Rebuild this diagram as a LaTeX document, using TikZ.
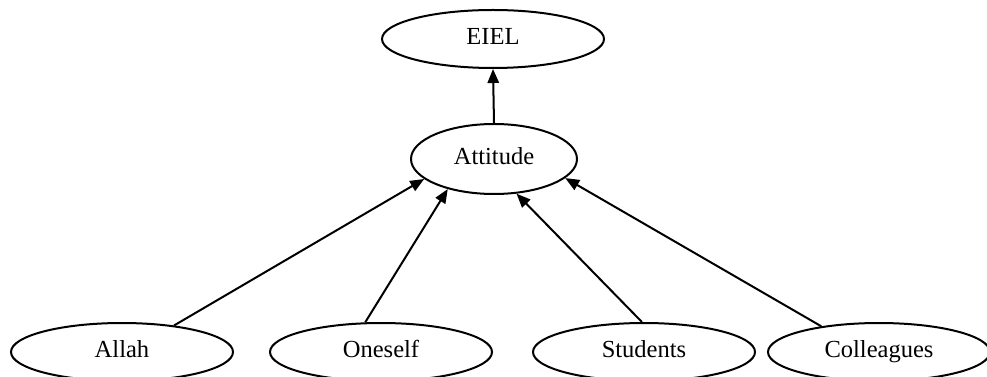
\documentclass[tikz,border=0pt]{standalone}
\usepackage{fontspec}
\setmainfont{Liberation Serif}
\usetikzlibrary{shapes.geometric, arrows.meta}

\begin{document}
\begin{tikzpicture}[x=0.75pt, y=-0.75pt, line width=1.5pt,
    oval/.style={ellipse, draw, inner sep=0pt, minimum width=166.5pt, minimum height=43.5pt,
        text height=12.5pt, text depth=4pt, font=\fontsize{18.4}{22}\selectfont},
    link/.style={-{Triangle[length=10.5pt, width=8.5pt]}}]
    \def\rowy{352}
    \useasboundingbox (0,0) rectangle (987,377);

    % top of the tree
    \node[oval] (eiel) at (493, 39) {EIEL};
    \node[oval, minimum width=124.5pt, minimum height=52.5pt] (attitude) at (494, 159) {Attitude};

    % bottom row
    \node[oval] (allah) at (122, \rowy) {Allah};
    \node[oval] (oneself) at (381, \rowy) {Oneself};
    \node[oval] (students) at (644, \rowy) {Students};
    \node[oval] (colleagues) at (879, \rowy) {Colleagues};

    \draw[link] (attitude.north) -- (eiel.south);
    \draw[link] (allah.27) -- (attitude.196);
    \draw[link] (oneself.118) -- (attitude.213);
    \draw[link] (students.94) -- (attitude.303);
    \draw[link] (colleagues.156) -- (attitude.345);
\end{tikzpicture}
\end{document}
